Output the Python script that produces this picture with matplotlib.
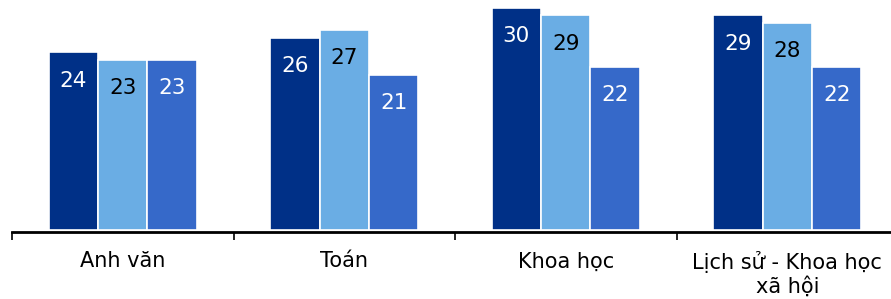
import matplotlib.pyplot as plt
import numpy as np

# Datos
categorias = ["Anh văn", "Toán", "Khoa học", "Lịch sử - Khoa học\nxã hội"]
serie1 = [24, 26, 30, 29]
serie2 = [23, 27, 29, 28]
serie3 = [23, 21, 22, 22]
series = [serie1, serie2, serie3]
COLORES = ["#003087", "#6aade4", "#3669c9"]
COLOR_TEXTO = ["white", "black", "white"]

fig = plt.figure(figsize=(8.91, 2.99), dpi=100)
ax = fig.add_axes([12 / 891, 67 / 299, 886 / 891, 224 / 299])

x = np.arange(len(categorias))
ancho = 0.223
for i in range(len(series)):
    pos = x + (i - 1) * ancho
    ax.bar(pos, series[i], width=ancho, color=COLORES[i],
           edgecolor="white", linewidth=1.2)
    for xp, v in zip(pos, series[i]):
        ax.text(xp, v - 3.8, str(v), ha="center", va="center",
                color=COLOR_TEXTO[i], fontsize=15.5)

ax.set_xlim(-0.5, len(categorias) - 0.5)
ax.set_ylim(-0.27, 30)
ax.set_xticks(x)
ax.set_xticklabels(categorias, fontsize=15, linespacing=1.15)
ax.tick_params(axis="x", which="major", length=0, pad=14)
ax.set_xticks(np.arange(-0.5, len(categorias), 1), minor=True)
ax.tick_params(axis="x", which="minor", length=6, width=1.2, direction="out")
ax.set_yticks([])
for s in ["top", "right", "left"]:
    ax.spines[s].set_visible(False)
ax.spines["bottom"].set_linewidth(2)

fig.savefig("out.png", dpi=100)
